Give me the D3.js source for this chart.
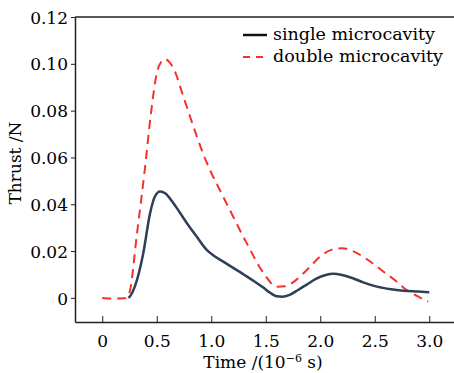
<!DOCTYPE html>
<html>
<head>
<meta charset="utf-8">
<script src="https://cdn.jsdelivr.net/npm/d3@7"></script>
<style>
  body { margin: 0; background: #fff; }
  svg text { font-family: "DejaVu Serif", serif; fill: #000; }
</style>
</head>
<body>
<div id="chart"></div>
<script>
// time in 10^-6 s, thrust in N
var singleT = [0.24, 0.254, 0.3, 0.376, 0.438, 0.483, 0.53, 0.58, 0.64, 0.713, 0.79, 0.866, 0.958, 1.03, 1.11, 1.22, 1.325, 1.4, 1.477, 1.54, 1.6, 1.65, 1.72, 1.8, 1.88, 1.96, 2.05, 2.12, 2.2, 2.3, 2.4, 2.52, 2.65, 2.76, 2.9, 3.0];
var singleV = [0, 0.0006, 0.005, 0.019, 0.036, 0.0433, 0.0454, 0.0446, 0.0413, 0.0364, 0.031, 0.0262, 0.0205, 0.0178, 0.0155, 0.0123, 0.0092, 0.0069, 0.0044, 0.0022, 0.0007, 0.0005, 0.0013, 0.0035, 0.0058, 0.0081, 0.0098, 0.0103, 0.0098, 0.0084, 0.0065, 0.0048, 0.0037, 0.0031, 0.0027, 0.0024];

var doubleT = [0, 0.1, 0.2, 0.23, 0.254, 0.315, 0.39, 0.45, 0.5, 0.54, 0.575, 0.62, 0.667, 0.73, 0.805, 0.93, 0.988, 1.08, 1.17, 1.325, 1.48, 1.6, 1.68, 1.78, 1.9, 2.0, 2.1, 2.2, 2.3, 2.39, 2.48, 2.58, 2.7, 2.79, 2.9, 2.99];
var doubleV = [0, -0.0003, -0.0002, 0.0004, 0.003, 0.026, 0.0547, 0.08, 0.096, 0.1008, 0.102, 0.1005, 0.0967, 0.088, 0.0775, 0.0611, 0.0547, 0.046, 0.0376, 0.0234, 0.0106, 0.0048, 0.005, 0.0077, 0.013, 0.0177, 0.0205, 0.0212, 0.0200, 0.0177, 0.0148, 0.0112, 0.007, 0.0034, 0.0005, -0.0016];

var xTicks = [0, 0.5, 1.0, 1.5, 2.0, 2.5, 3.0];
var yTicks = [0, 0.02, 0.04, 0.06, 0.08, 0.10, 0.12];
var seriesNames = ["single microcavity", "double microcavity"];

var width = 454, height = 373;

var svg = d3.select("#chart").append("svg")
  .attr("width", width)
  .attr("height", height);

var x = d3.scaleLinear().domain([-0.25, 3.25]).range([75, 456.5]);
var y = d3.scaleLinear().domain([-0.0103, 0.12]).range([322, 17]);

// axes frame
svg.append("line")
  .attr("x1", 75).attr("x2", width + 5)
  .attr("y1", 17).attr("y2", 17)
  .style("stroke", "#222").style("stroke-width", 1.5);

var xAxis = svg.append("g")
  .attr("transform", "translate(0,322)")
  .call(d3.axisBottom(x).tickValues(xTicks).tickSizeInner(-6).tickSizeOuter(0)
    .tickFormat(function(d){ return d === 0 ? "0" : d3.format(".1f")(d); }));
xAxis.select(".domain").style("stroke", "#222").style("stroke-width", 1.5);
xAxis.selectAll(".tick line").style("stroke", "#222");
xAxis.selectAll(".tick text")
  .attr("y", 25)
  .attr("dy", 0)
  .style("font-size", "17px");

var yAxis = svg.append("g")
  .attr("transform", "translate(75,0)")
  .call(d3.axisLeft(y).tickValues(yTicks).tickSizeInner(4).tickSizeOuter(0).tickPadding(3)
    .tickFormat(function(d){ return d === 0 ? "0" : d3.format(".2f")(d); }));
yAxis.select(".domain").style("stroke", "#222").style("stroke-width", 1.5);
yAxis.selectAll(".tick line").style("stroke", "#222");
yAxis.selectAll(".tick text").style("font-size", "17px").attr("dy", "0.36em");

// axis titles
var xt = svg.append("text")
  .attr("x", 263)
  .attr("y", 368)
  .attr("text-anchor", "middle")
  .style("font-size", "17px");
xt.append("tspan").text("Time /(10");
xt.append("tspan").attr("dy", -6).style("font-size", "11px").text("\u22126");
xt.append("tspan").attr("dy", 6).text(" s)");

svg.append("text")
  .attr("transform", "translate(21,163) rotate(-90)")
  .attr("text-anchor", "middle")
  .style("font-size", "17px")
  .text("Thrust /N");

// curves
var line = d3.line()
  .x(function(d){ return x(d[0]); })
  .y(function(d){ return y(d[1]); })
  .curve(d3.curveMonotoneX);

var doubleData = d3.zip(doubleT, doubleV);
var singleData = d3.zip(singleT, singleV);

svg.append("path")
  .datum(doubleData)
  .attr("d", line)
  .style("fill", "none")
  .style("stroke", "#f5312b")
  .style("stroke-width", 2)
  .style("stroke-dasharray", "9,6");

svg.append("path")
  .datum(singleData)
  .attr("d", line)
  .style("fill", "none")
  .style("stroke", "#2f3f55")
  .style("stroke-width", 2.5);

// legend
var legend = svg.append("g");
var styles = [
  {color: "#111", dash: null, w: 2.5},
  {color: "#f5312b", dash: "7,6", w: 2}
];
seriesNames.forEach(function(name, i){
  var ly = 35 + i * 22;
  legend.append("line")
    .attr("x1", 243).attr("x2", 267)
    .attr("y1", ly).attr("y2", ly)
    .style("stroke", styles[i].color)
    .style("stroke-width", styles[i].w)
    .style("stroke-dasharray", styles[i].dash);
  legend.append("text")
    .attr("x", 273)
    .attr("y", ly + 5)
    .attr("textLength", i === 0 ? 162 : 170)
    .style("font-size", "17.5px")
    .text(name);
});
</script>
</body>
</html>
